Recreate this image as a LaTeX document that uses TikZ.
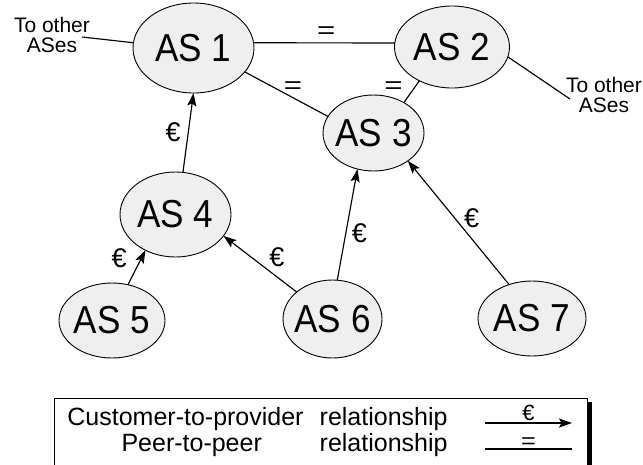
\documentclass[tikz,border=0pt]{standalone}
\usepackage{fontspec}
\setmainfont{Liberation Sans}
\newfontfamily\asfont[FakeStretch=0.9]{Liberation Sans}
\usetikzlibrary{arrows.meta,shapes.geometric}
\definecolor{asfill}{RGB}{239,239,239}
\newcommand{\peq}[1][1.3]{\scalebox{#1}[1]{=}}
\begin{document}
\begin{tikzpicture}[x=1pt,y=-1pt,
  asnode/.style={ellipse, draw, line width=0.9pt, fill=asfill, inner xsep=-16pt,
    inner ysep=0pt, outer sep=0pt, font=\asfont\fontsize{39}{39}\selectfont},
  link/.style={line width=1.15pt},
  c2p/.style={link, -{Stealth[length=13pt,width=9pt,inset=2.5pt]}},
  lbl/.style={inner sep=0pt, font=\fontsize{27}{27}\selectfont},
  eqlbl/.style={inner sep=0pt, font=\fontsize{24}{24}\selectfont},
  keylbl/.style={inner sep=0pt, font=\fontsize{22}{22}\selectfont},
  note/.style={align=center, inner sep=0pt, font=\fontsize{21}{20}\selectfont},
  legtext/.style={inner sep=0pt, font=\fontsize{25}{25}\selectfont},
]
\useasboundingbox (0,0) rectangle (643,464);

% autonomous systems
\node[asnode, minimum width=121pt, minimum height=90pt] (as1) at (193.5,48) {AS 1};
\node[asnode, minimum width=115pt, minimum height=82pt] (as2) at (452,47) {AS 2};
\node[asnode, minimum width=101pt, minimum height=76pt] (as3) at (373.5,133) {AS 3};
\node[asnode, minimum width=111pt, minimum height=85pt] (as4) at (175.5,214.5) {AS 4};
\node[asnode, minimum width=106pt, minimum height=75pt] (as5) at (112,320.5) {AS 5};
\node[asnode, minimum width=99pt, minimum height=78pt] (as6) at (332.5,319) {AS 6};
\node[asnode, minimum width=108pt, minimum height=75pt] (as7) at (532,318.5) {AS 7};

% links leaving the picture
\node[note] (oth1) at (52,35) {To other\\ASes};
\node[note] (oth2) at (604,95) {To other\\ASes};
\coordinate (e1) at (82,37);
\coordinate (e2) at (570,99);
\draw[link] (e1) -- (as1.175.3);
\draw[link] (as2.-10) -- (e2);

% peer-to-peer links
\draw[link] (as1.5.6) -- node[eqlbl, pos=0.514, yshift=10.3pt] (q12) {\peq} (as2.176);
\draw[link] (as1.-25) -- node[eqlbl, pos=0.515, xshift=5.3pt, yshift=7.5pt] (q13) {\peq} (as3.160.6);
\draw[link] (as2.226.7) -- node[eqlbl, pos=0.736, xshift=-14.5pt, yshift=9pt] (q23) {\peq} (as3.45.5);

% customer-to-provider links
\draw[c2p] (as4.80) -- node[lbl, pos=0.483, xshift=-14.8pt, yshift=1.9pt] (m41) {€} (as1.-90.6);
\draw[c2p] (as5.66.9) -- node[lbl, pos=0.507, xshift=-17.6pt, yshift=8.8pt] (m54) {€} (as4.-130.2);
\draw[c2p] (as6.143.8) -- node[lbl, pos=0.405, xshift=9.7pt, yshift=12.3pt] (m64) {€} (as4.-24);
\draw[c2p] (as6.83.6) -- node[lbl, pos=0.444, xshift=13.1pt, yshift=-2.4pt] (m63) {€} (as3.-114);
\draw[c2p] (as7.124.5) -- node[lbl, pos=0.47, xshift=10.1pt, yshift=8.1pt] (m73) {€} (as3.-39.6);

% legend frame with its shadow
\fill[black] (58,402) rectangle (592,480);
\node[draw, fill=white, line width=1pt, inner sep=0pt, outer sep=0pt,
  anchor=north west, minimum width=533.7pt, minimum height=82pt] (legend) at (54,398.3) {};

\node[legtext, anchor=base] (k1) at (185.5,425) {Customer-to-provider};
\node[legtext, anchor=base west] (k2) at (319.5,425) {relationship};
\node[legtext, anchor=base] (k3) at (191.7,451.7) {Peer-to-peer};
\node[legtext, anchor=base west] (k4) at (319.5,451.7) {relationship};

\coordinate (ka) at (485,423);
\coordinate (kb) at (572,423);
\coordinate (kc) at (485,449);
\coordinate (kd) at (572,449);
\draw[c2p] (ka) -- node[keylbl, yshift=10pt] (km1) {€} (kb);
\draw[link] (kc) -- node[keylbl, yshift=6.2pt] (km2) {\peq[1.15]} (kd);
\end{tikzpicture}
\end{document}
